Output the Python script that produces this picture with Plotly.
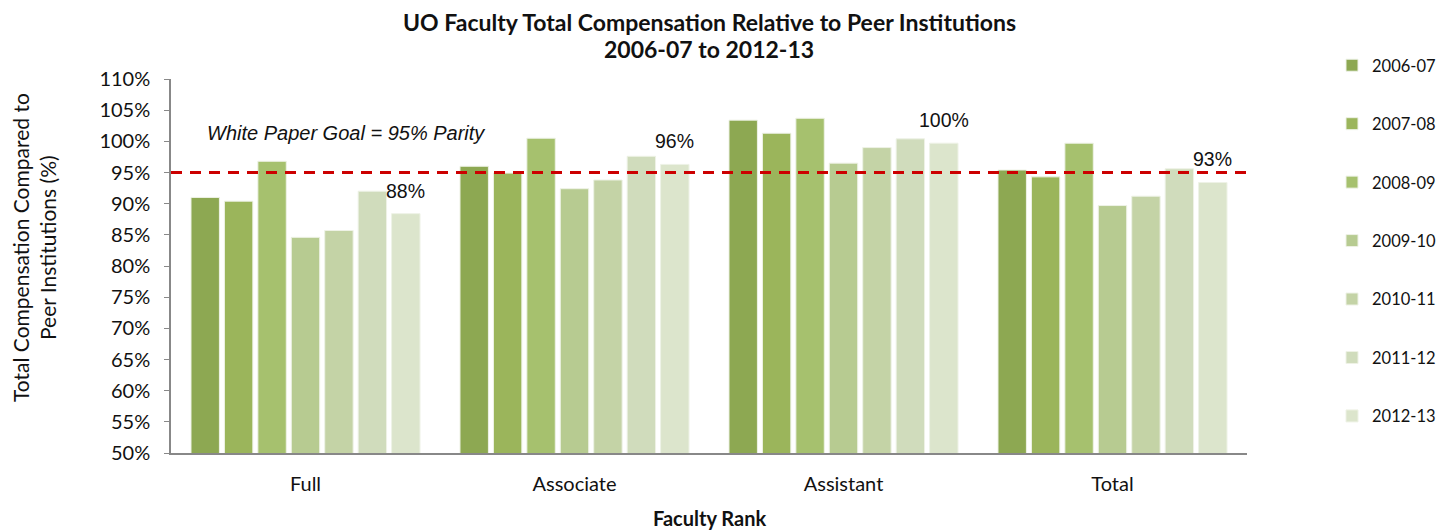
import plotly.graph_objects as go

categories = ["Full", "Associate", "Assistant", "Total"]
years = ["2006-07", "2007-08", "2008-09", "2009-10", "2010-11", "2011-12", "2012-13"]
v_2006_07 = [91.0, 96.0, 103.4, 95.4]
v_2007_08 = [90.4, 94.9, 101.3, 94.3]
v_2008_09 = [96.8, 100.5, 103.7, 99.7]
v_2009_10 = [84.6, 92.4, 96.5, 89.7]
v_2010_11 = [85.7, 93.8, 99.0, 91.2]
v_2011_12 = [92.0, 97.6, 100.4, 95.6]
v_2012_13 = [88.4, 96.3, 99.7, 93.4]
series = [v_2006_07, v_2007_08, v_2008_09, v_2009_10, v_2010_11, v_2011_12, v_2012_13]
colors = ["#8DA852", "#9BB55B", "#A6C16E", "#B7CB91", "#C4D3A6", "#D0DCBC", "#DCE5CC"]
goal = 95
y_ticks = list(range(50, 111, 5))
title_lines = ["UO Faculty Total Compensation Relative to Peer Institutions", "2006-07 to 2012-13"]
ytitle_lines = ["Total Compensation Compared to", "Peer Institutions (%)"]
xtitle = "Faculty Rank"

FONT = "Lato"
TXT = "#111111"
W, H = 1438, 523
ML, MR, MT, MB = 163, 199, 71, 78
PW, PH = W - ML - MR, H - MT - MB

def px_x(px):
    return (px - ML) / PW

def px_y(py):
    return 1 - (py - MT) / PH

fig = go.Figure()
for i, (yr, vals) in enumerate(zip(years, series)):
    fig.add_trace(go.Bar(
        name=yr, x=categories, y=vals,
        marker=dict(color=colors[i], line=dict(color="#EEF2E6", width=1)),
        legendgroup=yr,
    ))

bargap = 0.13
n = len(years)
slot = (1 - bargap) / n
last_offset = -(1 - bargap) / 2 + slot * (n - 0.5)

annotations = []
for ci, v in enumerate(v_2012_13):
    annotations.append(dict(
        x=ci + last_offset, y=v, xref="x", yref="y", text=f"{v:.0f}%",
        showarrow=False, yanchor="bottom", yshift=10,
        font=dict(family="Liberation Sans", size=19.5, color=TXT),
    ))
annotations.append(dict(
    x=px_x(197), xref="paper", y=px_y(125), yref="paper", xanchor="left", yanchor="middle",
    text=f"<i>White Paper Goal = {goal}% Parity</i>", showarrow=False,
    font=dict(family="Liberation Sans", size=20, color=TXT),
))
# title lines
for line, py in zip(title_lines, [14, 41]):
    annotations.append(dict(
        x=0.5, xref="paper", y=px_y(py), yref="paper", xanchor="center", yanchor="middle",
        text=f"<b>{line}</b>", showarrow=False, borderpad=0,
        font=dict(family=FONT, size=23, color=TXT),
    ))
# y-axis title lines
for line, px in zip(ytitle_lines, [12, 39]):
    annotations.append(dict(
        x=px_x(px), xref="paper", y=px_y(240), yref="paper", xanchor="center", yanchor="middle",
        text=line, textangle=-90, showarrow=False,
        font=dict(family=FONT, size=21, color=TXT),
    ))
# x-axis title
annotations.append(dict(
    x=0.5, xref="paper", y=px_y(510), yref="paper", xanchor="center", yanchor="middle",
    text=f"<b>{xtitle}</b>", showarrow=False,
    font=dict(family=FONT, size=20, color=TXT),
))

fig.update_layout(
    width=W, height=H,
    paper_bgcolor="white", plot_bgcolor="white",
    margin=dict(l=ML, r=MR, t=MT, b=MB, autoexpand=False),
    barmode="group", bargap=bargap, bargroupgap=0.15,
    font=dict(family=FONT, size=18, color=TXT),
    legend=dict(
        xref="container", yref="container", x=1324 / W, y=1 - 40 / H, xanchor="left", yanchor="top",
        font=dict(family=FONT, size=16.5, color=TXT), maxheight=480,
        tracegroupgap=34, traceorder="grouped", bgcolor="rgba(0,0,0,0)",
    ),
    xaxis=dict(
        showline=True, linecolor="#888888", linewidth=1.5, ticks="",
        tickfont=dict(family=FONT, size=20), ticklabelstandoff=12,
    ),
    yaxis=dict(
        range=[50, 110], tickvals=y_ticks, ticktext=[f"{t}%" for t in y_ticks],
        showline=True, linecolor="#888888", linewidth=1.5, ticks="outside", ticklen=5,
        tickcolor="#888888", showgrid=False, zeroline=False,
        tickfont=dict(family=FONT, size=20), ticklabelstandoff=10,
    ),
    shapes=[dict(type="line", xref="paper", yref="y", x0=0, x1=1, y0=goal, y1=goal,
                 line=dict(color="#CC0000", width=3, dash="11px,8px"))],
    annotations=annotations,
)

fig.write_html("out.html")
